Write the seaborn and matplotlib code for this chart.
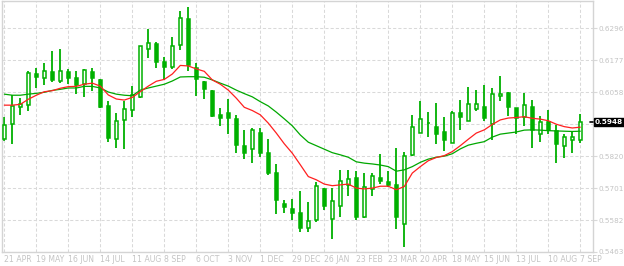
import matplotlib
matplotlib.use("Agg")
import matplotlib.pyplot as plt
import seaborn as sns
import numpy as np
import pandas as pd

# ---- data (weekly candles) ----
opens = [0.5883,0.5939,0.6002,0.6010,0.6126,0.6110,0.6134,0.6099,0.6134,0.6111,0.6088,
         0.6134,0.6104,0.6007,0.5883,0.5954,0.5991,0.6042,0.6218,0.6239,0.6171,
         0.6151,0.6233,0.6330,0.6147,0.6096,0.6063,0.5974,0.5981,0.5959,0.5858,
         0.5846,0.5907,0.5832,0.5758,0.5643,0.5624,0.5609,0.5552,0.5581,0.5698,
         0.5586,0.5633,0.5712,0.5738,0.5595,0.5696,0.5738,0.5724,0.5713,0.5567,
         0.5824,0.5906,0.5943,0.5929,0.5909,0.5868,0.5980,0.5950,0.5995,0.6002,
         0.5938,0.6043,0.6054,0.5999,0.5967,0.6002,0.5902,0.5946,0.5912,0.5857,
         0.5881,0.5880]
highs = [0.5967,0.6047,0.6037,0.6138,0.6148,0.6168,0.6212,0.6219,0.6145,0.6138,0.6145,
         0.6148,0.6109,0.6026,0.5981,0.6027,0.6081,0.6232,0.6292,0.6246,0.6189,
         0.6264,0.6360,0.6375,0.6168,0.6101,0.6066,0.6001,0.6033,0.5975,0.5919,
         0.5925,0.5925,0.5885,0.5791,0.5657,0.5661,0.5691,0.5650,0.5722,0.5703,
         0.5700,0.5769,0.5769,0.5764,0.5758,0.5758,0.5829,0.5763,0.5851,0.5835,
         0.5974,0.6026,0.5985,0.6018,0.5966,0.5988,0.6029,0.6078,0.6066,0.6085,
         0.6073,0.6119,0.6059,0.5999,0.6055,0.6029,0.5969,0.5992,0.5936,0.5902,
         0.5913,0.5977]
lows = [0.5878,0.5867,0.5975,0.5990,0.6075,0.6084,0.6095,0.6094,0.6089,0.6053,0.6042,
        0.6062,0.5999,0.5874,0.5852,0.5845,0.5967,0.6038,0.6187,0.6150,0.6103,
        0.6145,0.6216,0.6138,0.6045,0.6034,0.5967,0.5934,0.5904,0.5833,0.5811,
        0.5793,0.5816,0.5748,0.5603,0.5610,0.5581,0.5537,0.5536,0.5575,0.5618,
        0.5510,0.5595,0.5673,0.5581,0.5588,0.5673,0.5718,0.5705,0.5547,0.5480,
        0.5820,0.5906,0.5891,0.5867,0.5841,0.5868,0.5919,0.5950,0.5990,0.5952,
        0.5881,0.6025,0.5971,0.5902,0.5934,0.5852,0.5874,0.5904,0.5796,0.5815,
        0.5830,0.5868]
closes = [0.5935,0.6007,0.6013,0.6129,0.6116,0.6136,0.6103,0.6137,0.6112,0.6086,0.6140,
          0.6112,0.6004,0.5887,0.5950,0.5995,0.6047,0.6229,0.6241,0.6170,0.6153,
          0.6229,0.6333,0.6158,0.6106,0.6069,0.5971,0.5961,0.5964,0.5861,0.5830,
          0.5917,0.5830,0.5759,0.5655,0.5629,0.5610,0.5551,0.5579,0.5710,0.5633,
          0.5654,0.5728,0.5734,0.5595,0.5705,0.5746,0.5729,0.5714,0.5595,0.5820,
          0.5928,0.5959,0.5943,0.5904,0.5880,0.5980,0.5967,0.6013,0.6013,0.5964,
          0.6051,0.6051,0.6004,0.5962,0.6010,0.5918,0.5946,0.5918,0.5867,0.5892,
          0.5892,0.5948]
ma_fast = [0.6010,0.6010,0.6013,0.6032,0.6047,0.6060,0.6064,0.6073,0.6079,0.6080,0.6088,
           0.6092,0.6081,0.6048,0.6033,0.6029,0.6039,0.6060,0.6081,0.6099,0.6106,
           0.6126,0.6158,0.6156,0.6145,0.6136,0.6104,0.6088,0.6066,0.6036,0.6002,
           0.5990,0.5974,0.5943,0.5906,0.5866,0.5831,0.5788,0.5744,0.5732,0.5716,
           0.5710,0.5713,0.5716,0.5701,0.5698,0.5701,0.5708,0.5708,0.5695,0.5707,
           0.5757,0.5781,0.5803,0.5815,0.5822,0.5837,0.5859,0.5883,0.5906,0.5918,
           0.5938,0.5955,0.5962,0.5964,0.5967,0.5961,0.5958,0.5952,0.5939,0.5930,
           0.5925,0.5928]
ma_slow = [0.6051,0.6047,0.6047,0.6051,0.6054,0.6058,0.6065,0.6069,0.6074,0.6074,0.6080,
           0.6080,0.6074,0.6059,0.6051,0.6047,0.6045,0.6066,0.6074,0.6081,0.6088,
           0.6100,0.6115,0.6116,0.6116,0.6114,0.6104,0.6092,0.6081,0.6066,0.6053,
           0.6041,0.6023,0.6007,0.5984,0.5959,0.5933,0.5899,0.5872,0.5859,0.5846,
           0.5833,0.5825,0.5816,0.5799,0.5794,0.5791,0.5787,0.5781,0.5764,0.5769,
           0.5781,0.5797,0.5809,0.5816,0.5820,0.5829,0.5847,0.5861,0.5868,0.5874,
           0.5891,0.5902,0.5906,0.5910,0.5917,0.5918,0.5917,0.5915,0.5914,0.5913,
           0.5912,0.5913]
x_labels = ["21 APR", "19 MAY", "16 JUN", "14 JUL", "11 AUG", "8 SEP", "6 OCT",
            "3 NOV", "1 DEC", "29 DEC", "26 JAN", "23 FEB", "23 MAR", "20 APR",
            "18 MAY", "15 JUN", "13 JUL", "10 AUG", "7 SEP"]
y_ticks = [0.5463, 0.5582, 0.5701, 0.5820, 0.5939, 0.6058, 0.6177, 0.6296]
# the 0.5939 label is hidden under the last-price box in the reference
y_labels = ["0.5463", "0.5582", "0.5701", "0.5820", "", "0.6058", "0.6177", "0.6296"]
last_price = "0.5948"

df = pd.DataFrame({"i": np.arange(len(opens)), "open": opens, "high": highs,
                   "low": lows, "close": closes, "ma_fast": ma_fast, "ma_slow": ma_slow})

sns.set_style("white")
plt.rcParams["font.family"] = ["DejaVu Sans"]

GREEN = "#00b000"
RED = "#ff2020"
LGREEN = "#00a800"
GRID = "#d9d9d9"
TXT = "#c4c4c4"
FSX = 5.6
FSY = 5.2

fig = plt.figure(figsize=(6.24, 2.66), dpi=100)
ax = fig.add_axes([2/624, 14/266, 591/624, 251/266])

# grid
for k in range(len(x_labels)):
    ax.axvline(k*4, color=GRID, lw=0.75, ls=(0, (3, 2)), zorder=0)
for t in y_ticks:
    ax.axhline(t, color=GRID, lw=0.75, ls=(0, (3, 2)), zorder=0)

# wicks
ax.vlines(df["i"], df["low"], df["high"], color=GREEN, lw=1.3, zorder=2)
# bodies
up = df["close"] >= df["open"]
bottoms = np.minimum(df["open"], df["close"])
heights = np.abs(df["close"] - df["open"])
ax.bar(df["i"][up], heights[up], bottom=bottoms[up], width=0.4,
       facecolor="white", edgecolor=GREEN, linewidth=1.1, zorder=3)
ax.bar(df["i"][~up], heights[~up], bottom=bottoms[~up], width=0.4,
       facecolor=GREEN, edgecolor=GREEN, linewidth=1.1, zorder=3)

# moving averages
sns.lineplot(data=df, x="i", y="ma_slow", color=LGREEN, lw=0.9, ax=ax, zorder=4)
sns.lineplot(data=df, x="i", y="ma_fast", color=RED, lw=0.9, ax=ax, zorder=5)

ax.set_xlim(-0.29, 73.59)
ax.set_ylim(0.5463, 0.6398)
ax.set_xlabel("")
ax.set_ylabel("")

ax.set_xticks([k*4 for k in range(len(x_labels))])
ax.set_xticklabels(x_labels, ha="left", fontsize=FSX, color=TXT)
ax.yaxis.tick_right()
ax.set_yticks(y_ticks)
ax.set_yticklabels(y_labels, fontsize=FSY, color=TXT)
ax.tick_params(axis="x", length=0, pad=2.5)
ax.tick_params(axis="y", length=3, color=GRID, pad=1.0)

for s in ax.spines.values():
    s.set_color("#d4d4d4")
    s.set_linewidth(1.0)

# last price marker
yl = float(last_price)
ax.annotate(last_price, xy=(1.0, yl), xycoords=("axes fraction", "data"),
            xytext=(1.3, 0), textcoords="offset points", ha="left", va="center",
            fontsize=FSY, color="white", fontweight="bold",
            bbox=dict(boxstyle="square,pad=0.18", fc="black", ec="black"),
            annotation_clip=False, zorder=10)
ax.plot([0.995, 1.0], [yl, yl], transform=ax.get_yaxis_transform(),
        color="black", lw=1.2, clip_on=False, zorder=10)

fig.savefig("out.png", dpi=100)
